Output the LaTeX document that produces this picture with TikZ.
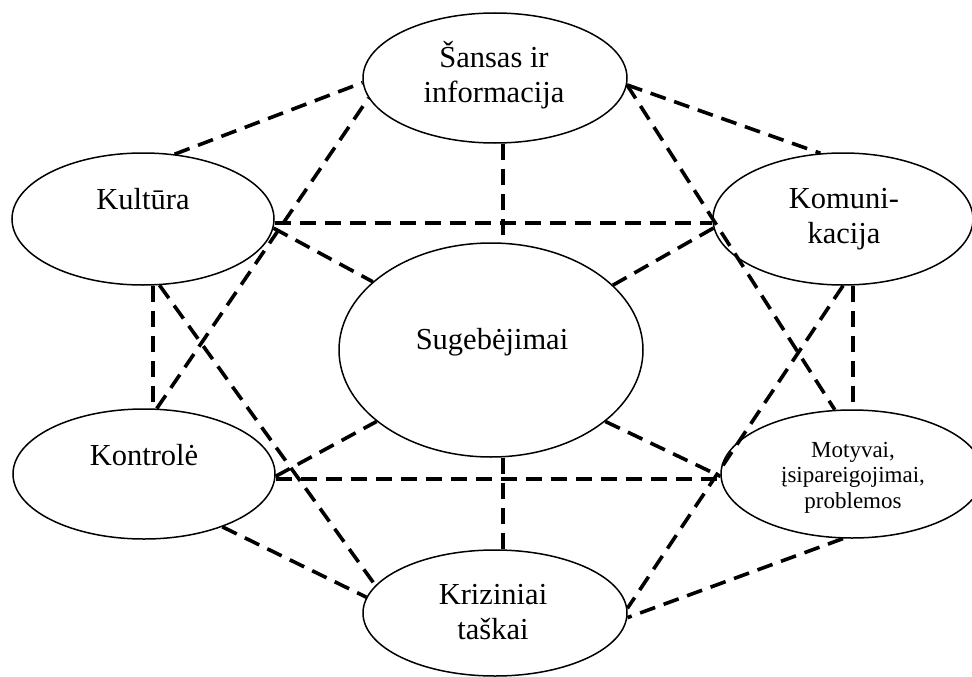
\documentclass[tikz,border=0pt]{standalone}
\usepackage{fontspec}
\setmainfont{Liberation Serif}
\usetikzlibrary{shapes.geometric}
\begin{document}
\begin{tikzpicture}[x=1pt,y=-1pt,
  oval/.style={draw=black, line width=1.5pt, ellipse, inner sep=0pt},
  link/.style={draw=black, line width=3.6pt, dash pattern=on 16pt off 9pt},
  big/.style={font=\fontsize{30.5}{35}\selectfont, anchor=base, inner sep=0pt},
  small/.style={font=\fontsize{23}{25.5}\selectfont, anchor=base, inner sep=0pt}]
\useasboundingbox (0,0) rectangle (972,677);

% ovals
\node[oval, minimum width=264pt, minimum height=130pt] (S)  at (495,78)  {};
\node[oval, minimum width=262pt, minimum height=132pt] (K)  at (143,219) {};
\node[oval, minimum width=260pt, minimum height=132pt] (Km) at (843,219) {};
\node[oval, minimum width=304pt, minimum height=214pt] (C)  at (491,350) {};
\node[oval, minimum width=262pt, minimum height=130pt] (Ko) at (144,474) {};
\node[oval, minimum width=262pt, minimum height=128pt] (M)  at (852,474) {};
\node[oval, minimum width=264pt, minimum height=126pt] (Kr) at (495,613) {};

% labels
\node[big] (tS)  at (494,68)  {\begin{tabular}[t]{@{}c@{}}Šansas ir\\informacija\end{tabular}};
\node[big] (tK)  at (143,209) {Kultūra};
\node[big] (tKm) at (844,208) {\begin{tabular}[t]{@{}c@{}}Komuni-\\kacija\end{tabular}};
\node[big] (tC)  at (492,349) {Sugebėjimai};
\node[big] (tKo) at (144,465) {Kontrolė};
\node[small] (tM) at (853,457) {\begin{tabular}[t]{@{}c@{}}Motyvai,\\įsipareigojimai,\\problemos\end{tabular}};
\node[big] (tKr) at (493,604) {\begin{tabular}[t]{@{}c@{}}Kriziniai\\taškai\end{tabular}};

% dashed links
\draw[link] (K.64) -- (S.182);
\draw[link] (Ko.79) -- (S.189);
\draw[link] (S.357) -- (Km.109);
\draw[link] (S.357) -- (M.105);
\draw[link] ([xshift=8pt]S.south) -- ([xshift=12pt]C.north);
\draw[link] ([yshift=-4pt]K.east) -- ([yshift=-4pt]Km.west);
\draw[link] (K.356) -- (C.150);
\draw[link] ([xshift=10pt]K.south) -- ([xshift=9pt]Ko.north);
\draw[link] (K.284) -- (Kr.167);
\draw[link] (Km.184) -- (C.28);
\draw[link] ([xshift=10pt]Km.south) -- ([xshift=1pt]M.north);
\draw[link] (Km.south) -- (Kr.2);
\draw[link] (C.328) -- (M.181);
\draw[link] (Ko.359) -- (C.212);
\draw[link] ([yshift=-5pt]Ko.east) -- ([yshift=-5pt]M.west);
\draw[link] (M.262) -- (Kr.358);
\draw[link] (Ko.326) -- (Kr.173);
\draw[link] ([xshift=12pt]C.south) -- ([xshift=8pt]Kr.north);
\end{tikzpicture}
\end{document}
